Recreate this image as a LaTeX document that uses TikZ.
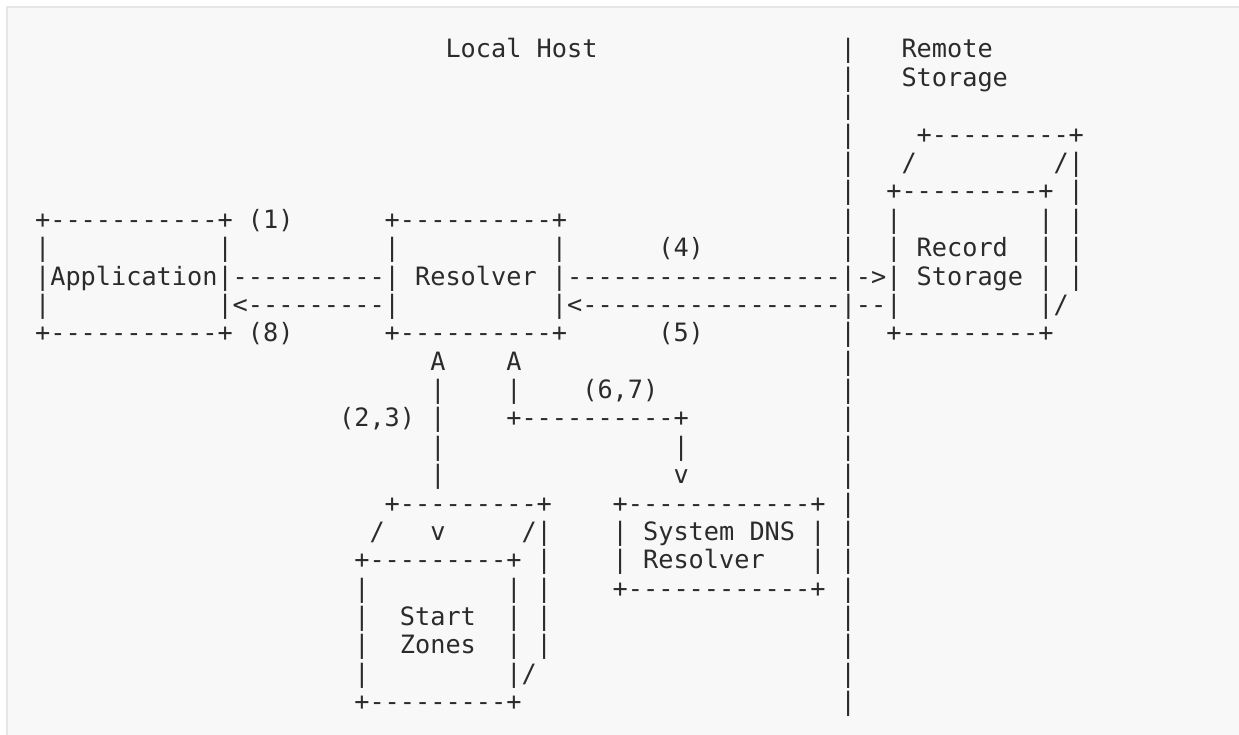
\documentclass[tikz,border=0pt]{standalone}
\usepackage{fontspec}
\setmonofont{DejaVu Sans Mono}
\definecolor{ink}{HTML}{2B2B2B}
\definecolor{codebg}{HTML}{F8F8F8}
\definecolor{codeborder}{HTML}{E6E6E6}
\tikzset{
  ascii/.style={anchor=base west, inner sep=0pt, outer sep=0pt, text=ink,
    font={\fontsize{25.25pt}{28pt}\selectfont\ttfamily}},
}
% \seg{name}{row}{column}{text}
\newcommand\seg[4]{\node[ascii] (#1) at ({35.1+15.2*(#3)},{58+28.38*(#2)}) {#4};}
\begin{document}
\begin{tikzpicture}[x=1pt,y=-1pt]
\useasboundingbox (0,0) rectangle (1239,735);
\fill[white] (0,0) rectangle (1239,735);
\fill[codebg] (7,7) rectangle (1239,735);
\draw[codeborder, line width=1.2pt] (7,735) -- (7,7) -- (1239,7);
% row 0
\seg{localhost}{0}{27}{Local~Host}
\seg{d0}{0}{53}{|}
\seg{remote}{0}{57}{Remote}
% row 1
\seg{d1}{1}{53}{|}
\seg{storage}{1}{57}{Storage}
% row 2
\seg{d2}{2}{53}{|}
% row 3
\seg{d3}{3}{53}{|}
\seg{rsA}{3}{58}{+---------+}
% row 4
\seg{d4}{4}{53}{|}
\seg{rsB}{4}{57}{/}
\seg{rsC}{4}{67}{/|}
% row 5
\seg{d5}{5}{53}{|}
\seg{rsD}{5}{56}{+---------+~|}
% row 6
\seg{appT}{6}{0}{+-----------+~(1)}
\seg{resT}{6}{23}{+----------+}
\seg{rsE}{6}{53}{|~~|~~~~~~~~~|~|}
% row 7
\seg{appA}{7}{0}{|~~~~~~~~~~~|}
\seg{resA}{7}{23}{|~~~~~~~~~~|}
\seg{lab4}{7}{41}{(4)}
\seg{rsF}{7}{53}{|~~|~Record~~|~|}
% row 8
\seg{main8}{8}{0}{|Application|----------|~Resolver~|------------------|->|~Storage~|~|}
% row 9
\seg{main9}{9}{0}{|~~~~~~~~~~~|<---------|~~~~~~~~~~|<-----------------|--|~~~~~~~~~|/}
% row 10
\seg{appB}{10}{0}{+-----------+~(8)}
\seg{resB}{10}{23}{+----------+}
\seg{lab5}{10}{41}{(5)}
\seg{d10}{10}{53}{|}
\seg{rsG}{10}{56}{+---------+}
% row 11
\seg{upA}{11}{26}{A}
\seg{upB}{11}{31}{A}
\seg{d11}{11}{53}{|}
% row 12
\seg{vA12}{12}{26}{|}
\seg{vB12}{12}{31}{|}
\seg{lab67}{12}{36}{(6,7)}
\seg{d12}{12}{53}{|}
% row 13
\seg{lab23}{13}{20}{(2,3)~|}
\seg{hook}{13}{31}{+----------+}
\seg{d13}{13}{53}{|}
% row 14
\seg{vA14}{14}{26}{|}
\seg{vC14}{14}{42}{|}
\seg{d14}{14}{53}{|}
% row 15
\seg{vA15}{15}{26}{|}
\seg{vC15}{15}{42}{v}
\seg{d15}{15}{53}{|}
% row 16
\seg{szA}{16}{23}{+---------+}
\seg{dnsA}{16}{38}{+------------+~|}
% row 17
\seg{szB}{17}{22}{/~~~v~~~~~/|}
\seg{dnsB}{17}{38}{|~System~DNS~|~|}
% row 18
\seg{szC}{18}{21}{+---------+~|}
\seg{dnsC}{18}{38}{|~Resolver~~~|~|}
% row 19
\seg{szD}{19}{21}{|~~~~~~~~~|~|}
\seg{dnsD}{19}{38}{+------------+~|}
% row 20
\seg{szE}{20}{21}{|~~Start~~|~|}
\seg{d20}{20}{53}{|}
% row 21
\seg{szF}{21}{21}{|~~Zones~~|~|}
\seg{d21}{21}{53}{|}
% row 22
\seg{szG}{22}{21}{|~~~~~~~~~|/}
\seg{d22}{22}{53}{|}
% row 23
\seg{szH}{23}{21}{+---------+}
\seg{d23}{23}{53}{|}
\end{tikzpicture}
\end{document}
